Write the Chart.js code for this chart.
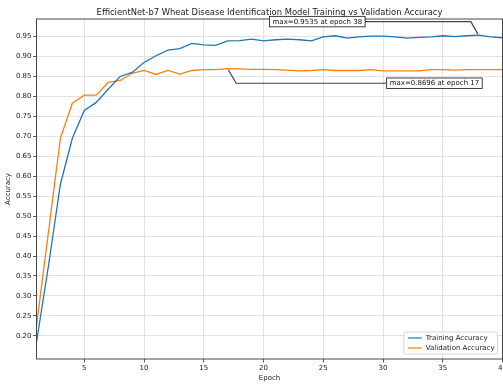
<!DOCTYPE html>
<html>
<head>
<meta charset="utf-8">
<title>EfficientNet-b7 accuracy</title>
<script src="https://cdn.jsdelivr.net/npm/chart.js@4.4.0/dist/chart.umd.min.js"></script>
<style>
html, body { margin: 0; padding: 0; background: #fff; overflow: hidden; }
#wrap { width: 503px; height: 386px; overflow: hidden; }
#box { width: 508px; height: 386px; position: relative; }
</style>
</head>
<body>
<div id="wrap"><div id="box"><canvas id="accChart"></canvas></div></div>
<script>
/* DATA */
var epochs = [1, 2, 3, 4, 5, 6, 7, 8, 9, 10, 11, 12, 13, 14, 15, 16, 17, 18, 19, 20,
    21, 22, 23, 24, 25, 26, 27, 28, 29, 30, 31, 32, 33, 34, 35, 36, 37, 38, 39, 40];
var trainAcc = [0.184, 0.375, 0.58, 0.695, 0.765, 0.785, 0.818, 0.85, 0.86, 0.885,
    0.902, 0.916, 0.92, 0.933, 0.929, 0.928, 0.939, 0.94, 0.9435, 0.939,
    0.942, 0.9435, 0.942, 0.939, 0.949, 0.952, 0.946, 0.949, 0.951, 0.951,
    0.949, 0.946, 0.948, 0.949, 0.952, 0.95, 0.952, 0.9535, 0.949, 0.947];
var valAcc = [0.225, 0.46, 0.695, 0.783, 0.803, 0.803, 0.835, 0.84, 0.858, 0.865,
    0.855, 0.865, 0.856, 0.865, 0.867, 0.867, 0.8696, 0.869, 0.868, 0.868,
    0.867, 0.866, 0.864, 0.865, 0.867, 0.865, 0.865, 0.865, 0.867, 0.864,
    0.864, 0.864, 0.864, 0.867, 0.867, 0.866, 0.867, 0.867, 0.867, 0.867];
var xTicks = [5, 10, 15, 20, 25, 30, 35, 40];
var yTicks = [0.20, 0.25, 0.30, 0.35, 0.40, 0.45, 0.50, 0.55, 0.60, 0.65, 0.70, 0.75, 0.80, 0.85, 0.90, 0.95];

var FONT = "'DejaVu Sans', sans-serif";
var TITLE = "EfficientNet-b7 Wheat Disease Identification Model Training vs Validation Accuracy";

function toPoints(ys) {
    return epochs.map(function(e, i) { return { x: e, y: ys[i] }; });
}

function maxNote(ys) {
    var best = 0;
    for (var i = 1; i < ys.length; i++) {
        if (ys[i] > ys[best]) best = i;
    }
    return { x: epochs[best], y: ys[best], text: "max=" + ys[best].toFixed(4) + " at epoch " + epochs[best] };
}

/* FRAME + TITLE (matplotlib style box round the axes) */
var framePlugin = {
    id: "frame",
    afterDatasetsDraw: function(chart) {
        var a = chart.chartArea, ctx = chart.ctx;
        ctx.save();
        ctx.strokeStyle = "#333";
        ctx.lineWidth = 0.9;
        ctx.strokeRect(a.left, a.top, a.right - a.left, a.bottom - a.top);
        ctx.fillStyle = "#222";
        ctx.font = "8.4px " + FONT;
        ctx.textAlign = "center";
        ctx.textBaseline = "middle";
        ctx.fillText(TITLE, (a.left + a.right) / 2, 13.3);
        ctx.restore();
    }
};

/* MAX ANNOTATIONS */
var notePlugin = {
    id: "notes",
    afterDatasetsDraw: function(chart, args, opts) {
        var ctx = chart.ctx, xs = chart.scales.x, ys = chart.scales.y;
        ctx.save();
        ctx.font = "7px " + FONT;
        opts.items.forEach(function(n) {
            var px = xs.getPixelForValue(n.point.x), py = ys.getPixelForValue(n.point.y);
            var tx = xs.getPixelForValue(n.at[0]), ty = ys.getPixelForValue(n.at[1]);
            var w = ctx.measureText(n.point.text).width + 6, h = 10.5;
            var side = tx > px ? 1 : -1;
            var cx = px + side * Math.abs(ty - py) / Math.tan(Math.PI / 3);
            var ex = tx - side * w / 2;
            var len = Math.hypot(cx - px, ty - py);
            var sx = px + (cx - px) / len * 1.5, sy = py + (ty - py) / len * 1.5;
            ctx.strokeStyle = "#444";
            ctx.lineWidth = 1.2;
            ctx.beginPath();
            ctx.moveTo(ex, ty);
            ctx.lineTo(cx, ty);
            ctx.lineTo(sx, sy);
            ctx.stroke();
            ctx.fillStyle = "#fff";
            ctx.fillRect(tx - w / 2, ty - h / 2, w, h);
            ctx.strokeStyle = "#111";
            ctx.lineWidth = 0.8;
            ctx.strokeRect(tx - w / 2, ty - h / 2, w, h);
            ctx.fillStyle = "#111";
            ctx.textAlign = "center";
            ctx.textBaseline = "middle";
            ctx.fillText(n.point.text, tx, ty + 0.3);
        });
        ctx.restore();
    }
};

/* LEGEND (lower right inside the axes) */
var boxLegend = {
    id: "boxLegend",
    afterDraw: function(chart) {
        var a = chart.chartArea, ctx = chart.ctx;
        var sets = chart.data.datasets;
        ctx.save();
        ctx.font = "7px " + FONT;
        var tw = 0;
        sets.forEach(function(d) { tw = Math.max(tw, ctx.measureText(d.label).width); });
        var w = tw + 25, h = sets.length * 10 + 2;
        var x0 = a.right - 5 - w, y0 = a.bottom - 5 - h;
        ctx.fillStyle = "rgba(255,255,255,0.85)";
        ctx.strokeStyle = "#cccccc";
        ctx.lineWidth = 0.8;
        ctx.beginPath();
        ctx.roundRect(x0, y0, w, h, 2);
        ctx.fill();
        ctx.stroke();
        sets.forEach(function(d, i) {
            var yy = y0 + 6 + i * 10;
            ctx.strokeStyle = d.borderColor;
            ctx.lineWidth = 1.2;
            ctx.beginPath();
            ctx.moveTo(x0 + 4, yy);
            ctx.lineTo(x0 + 18, yy);
            ctx.stroke();
            ctx.fillStyle = "#222";
            ctx.textAlign = "left";
            ctx.textBaseline = "middle";
            ctx.fillText(d.label, x0 + 22, yy);
        });
        ctx.restore();
    }
};

/* DRAW CHART */
var ctx = document.getElementById("accChart").getContext("2d");
var accChart = new Chart(ctx, {
    type: "line",
    data: {
        datasets: [
            {
                label: "Training Accuracy",
                data: toPoints(trainAcc),
                borderColor: "#1f77b4",
                borderWidth: 1.3,
                pointRadius: 0,
                tension: 0,
                fill: false
            },
            {
                label: "Validation Accuracy",
                data: toPoints(valAcc),
                borderColor: "#ff7f0e",
                borderWidth: 1.3,
                pointRadius: 0,
                tension: 0,
                fill: false
            }
        ]
    },
    options: {
        responsive: true,
        maintainAspectRatio: false,
        animation: false,
        layout: { padding: { left: 3.5, right: 0, top: 19, bottom: 4.1 } },
        plugins: {
            legend: { display: false },
            tooltip: { enabled: false },
            notes: {
                items: [
                    { point: maxNote(trainAcc), at: [24.5, 0.9875] },
                    { point: maxNote(valAcc), at: [34.3, 0.833] }
                ]
            }
        },
        scales: {
            x: {
                type: "linear",
                min: 1,
                max: 40,
                afterBuildTicks: function(scale) {
                    scale.ticks = xTicks.map(function(v) { return { value: v }; });
                },
                ticks: { font: { family: FONT, size: 7 }, color: "#222", padding: 1, maxRotation: 0, autoSkip: false },
                grid: { color: "#dadada", lineWidth: 0.8, tickColor: "#333", tickLength: 3.5 },
                border: { display: false },
                title: { display: true, text: "Epoch", font: { family: FONT, size: 7 }, color: "#222", padding: { top: 0.6, bottom: 0 } }
            },
            y: {
                min: 0.142,
                max: 0.994,
                afterBuildTicks: function(scale) {
                    scale.ticks = yTicks.map(function(v) { return { value: v }; });
                },
                ticks: {
                    font: { family: FONT, size: 7 },
                    color: "#222",
                    padding: 1.5,
                    autoSkip: false,
                    callback: function(v) { return v.toFixed(2); }
                },
                grid: { color: "#dadada", lineWidth: 0.8, tickColor: "#333", tickLength: 3.5 },
                border: { display: false },
                title: { display: true, text: "Accuracy", font: { family: FONT, size: 7 }, color: "#222", padding: { top: 0, bottom: 2.5 } }
            }
        }
    },
    plugins: [framePlugin, notePlugin, boxLegend]
});
</script>
</body>
</html>
